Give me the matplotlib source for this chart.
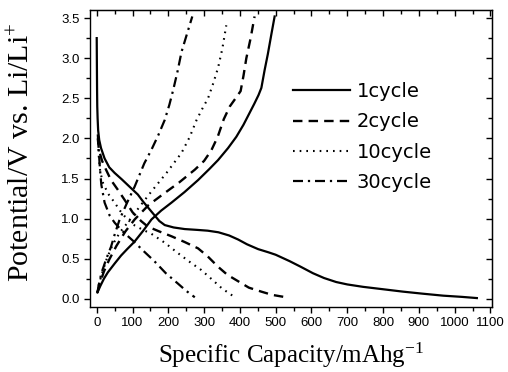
import matplotlib
matplotlib.use("Agg")
import matplotlib.pyplot as plt
from matplotlib.ticker import MultipleLocator

# ---- data ----
labels = ["1cycle", "2cycle", "10cycle", "30cycle"]

# discharge branches (capacity mAh/g, potential V)
dis1_cap = [0, 0.5, 1, 1.5, 2.5, 4, 7, 12, 22, 35, 50, 70, 96, 115, 130, 145, 160, 175, 190, 215, 246, 280, 310,
            340, 370, 395, 420, 451, 480, 500, 539, 570, 604, 635, 669, 700, 744, 800, 856, 910, 968, 1020, 1062]
dis1_v   = [3.25, 2.9, 2.6, 2.4, 2.25, 2.1, 1.98, 1.88, 1.75, 1.64, 1.57, 1.49, 1.38, 1.30, 1.21, 1.13, 1.05, 0.97,
            0.92, 0.89, 0.87, 0.86, 0.85, 0.83, 0.79, 0.74, 0.68, 0.62, 0.58, 0.55, 0.47, 0.40, 0.32, 0.26, 0.21,
            0.18, 0.15, 0.12, 0.09, 0.065, 0.04, 0.025, 0.01]

dis2_cap = [3, 6, 15, 26, 40, 59, 80, 100, 124, 143, 175, 209, 245, 283, 310, 339, 365, 395, 425, 460, 490, 516, 530]
dis2_v   = [2.0, 1.86, 1.72, 1.61, 1.48, 1.36, 1.22, 1.08, 0.97, 0.90, 0.84, 0.78, 0.71, 0.63, 0.53, 0.40, 0.30,
            0.22, 0.14, 0.09, 0.05, 0.03, 0.02]

dis10_cap = [4, 6, 10, 18, 32, 50, 65, 78, 100, 125, 153, 190, 227, 260, 292, 320, 350, 386]
dis10_v   = [1.95, 1.76, 1.58, 1.44, 1.31, 1.20, 1.10, 1.03, 0.93, 0.87, 0.81, 0.70, 0.57, 0.46, 0.36, 0.25, 0.13, 0.02]

dis30_cap = [3, 5, 9, 13, 22, 36, 50, 68, 85, 105, 130, 161, 193, 227, 250, 274]
dis30_v   = [2.05, 1.90, 1.62, 1.42, 1.20, 1.04, 0.95, 0.86, 0.79, 0.71, 0.60, 0.47, 0.32, 0.19, 0.10, 0.02]

# charge branches
chg1_cap = [2, 10, 20, 31, 50, 68, 85, 105, 130, 153, 180, 209, 245, 283, 315, 339, 367, 390, 410, 425, 440, 452,
            460, 469, 478, 488, 497]
chg1_v   = [0.08, 0.16, 0.25, 0.33, 0.44, 0.54, 0.62, 0.71, 0.85, 0.99, 1.10, 1.20, 1.33, 1.48, 1.62, 1.73, 1.88,
            2.02, 2.17, 2.30, 2.43, 2.54, 2.63, 2.85, 3.05, 3.30, 3.52]

chg2_cap = [2, 8, 20, 35, 55, 80, 106, 145, 190, 230, 274, 300, 320, 338, 355, 372, 388, 402, 410, 418, 430, 441]
chg2_v   = [0.08, 0.18, 0.34, 0.49, 0.66, 0.84, 0.99, 1.17, 1.32, 1.45, 1.61, 1.72, 1.85, 2.02, 2.24, 2.40, 2.50,
            2.59, 2.78, 3.00, 3.25, 3.52]

chg10_cap = [2, 6, 15, 28, 45, 65, 88, 120, 153, 195, 237, 260, 279, 295, 311, 325, 339, 351, 362]
chg10_v   = [0.08, 0.18, 0.32, 0.50, 0.68, 0.83, 0.96, 1.15, 1.34, 1.57, 1.82, 2.02, 2.23, 2.37, 2.50, 2.68,
            2.88, 3.12, 3.41]

chg30_cap = [2, 6, 13, 26, 40, 50, 64, 85, 106, 133, 153, 172, 190, 203, 214, 226, 237, 252, 267]
chg30_v   = [0.08, 0.18, 0.32, 0.49, 0.65, 0.80, 0.99, 1.20, 1.40, 1.69, 1.86, 2.04, 2.23, 2.42, 2.61, 2.84,
            3.08, 3.30, 3.52]

xticks = list(range(0, 1101, 100))
yticks = [0.0, 0.5, 1.0, 1.5, 2.0, 2.5, 3.0, 3.5]

# ---- figure ----
plt.rcParams['mathtext.fontset'] = 'custom'
plt.rcParams['mathtext.rm'] = 'Liberation Serif'
plt.rcParams['mathtext.it'] = 'Liberation Serif:italic'

fig = plt.figure(figsize=(5.08, 3.72), dpi=100)
ax = fig.add_axes([0.177, 0.175, 0.792, 0.798])

styles = [
    dict(ls='-', lw=1.6),
    dict(ls=(0, (4, 2.6)), lw=1.7),
    dict(ls=(0, (0.8, 2.4)), lw=1.5),
    dict(ls=(0, (4.5, 2.2, 1, 2.2)), lw=1.6),
]
dis = [(dis1_cap, dis1_v), (dis2_cap, dis2_v), (dis10_cap, dis10_v), (dis30_cap, dis30_v)]
chg = [(chg1_cap, chg1_v), (chg2_cap, chg2_v), (chg10_cap, chg10_v), (chg30_cap, chg30_v)]

for lab, st, (dc, dv), (cc, cv) in zip(labels, styles, dis, chg):
    ax.plot(dc, dv, color='black', label=lab, **st)
    ax.plot(cc, cv, color='black', **st)

ax.set_xlim(-19, 1105)
ax.set_ylim(-0.1, 3.6)
ax.set_xticks(xticks)
ax.set_yticks(yticks)
ax.xaxis.set_minor_locator(MultipleLocator(50))
ax.yaxis.set_minor_locator(MultipleLocator(0.25))

ax.tick_params(which='both', direction='out', top=False, right=False, labelsize=9.5, width=1)
ax.tick_params(which='major', length=4)
ax.tick_params(which='minor', length=3)
ax.set_xticklabels([str(t) for t in xticks])
ax.set_yticklabels([f"{t:.1f}" for t in yticks])
for lbl in ax.get_xticklabels() + ax.get_yticklabels():
    lbl.set_fontfamily('Liberation Sans')

# mirrored inward ticks on top and right
secx = ax.secondary_xaxis('top')
secx.set_xticks(xticks)
secx.xaxis.set_minor_locator(MultipleLocator(50))
secx.tick_params(which='both', direction='in', labeltop=False, width=1)
secx.tick_params(which='major', length=4)
secx.tick_params(which='minor', length=3)
secy = ax.secondary_yaxis('right')
secy.set_yticks(yticks)
secy.yaxis.set_minor_locator(MultipleLocator(0.25))
secy.tick_params(which='both', direction='in', labelright=False, width=1)
secy.tick_params(which='major', length=4)
secy.tick_params(which='minor', length=3)

for sp in ax.spines.values():
    sp.set_linewidth(1.0)

ax.set_xlabel(r'Specific Capacity/mAhg$^{\mathregular{-1}}$', fontfamily='Liberation Serif', fontsize=18, labelpad=8)
ax.set_ylabel(r'Potential/V vs. Li/Li$^{\mathregular{+}}$', fontfamily='Liberation Serif', fontsize=21.5)
ax.yaxis.set_label_coords(-0.135, 0.52)

leg = ax.legend(loc='center left', bbox_to_anchor=(0.462, 0.572), frameon=False,
                handlelength=2.9, handletextpad=0.36, labelspacing=0.58,
                prop={'family': 'DejaVu Sans', 'size': 14})

fig.savefig('out.png', dpi=100)
